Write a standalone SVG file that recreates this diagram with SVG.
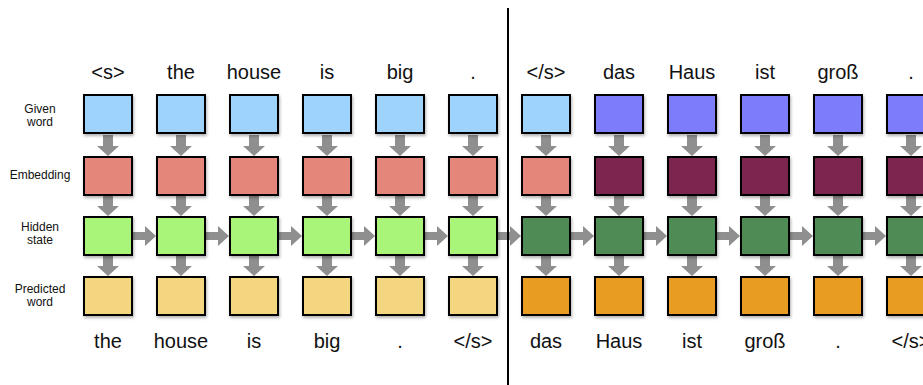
<svg xmlns="http://www.w3.org/2000/svg" xmlns:xlink="http://www.w3.org/1999/xlink" width="923" height="385" viewBox="0 0 923 385">
<style>
.box{stroke:#000;stroke-width:2;filter:url(#sh)}
.g1{fill:#9dd3fc}.g2{fill:#7d7dfc}
.e1{fill:#e4867a}.e2{fill:#7b2650}
.h1{fill:#a8f57a}.h2{fill:#508b55}
.p1{fill:#f4d580}.p2{fill:#e89c20}
.w{font-family:"Liberation Sans",Arial,Helvetica,sans-serif;font-size:20px;fill:#111;text-anchor:middle}
.lab{font-family:"Liberation Sans",Arial,Helvetica,sans-serif;font-size:12px;fill:#111;text-anchor:middle}
.arr{fill:#8f8f8f}
</style>
<defs>
<filter id="sh" x="-20%" y="-20%" width="150%" height="150%"><feDropShadow dx="1" dy="2" stdDeviation="1.5" flood-color="#000" flood-opacity="0.3"/></filter>
<path id="va" d="M-5,0 H5 V11 H11 L0,21 L-11,11 H-5 Z"/>
<path id="ha" d="M0,-4 H12 V-10 L23,0 L12,10 V4 H0 Z"/>
</defs>
<rect width="923" height="385" fill="#fff"/>
<g id="labels">
<text class="lab" x="40" y="113">Given</text><text class="lab" x="40" y="126">word</text>
<text class="lab" x="40" y="179">Embedding</text>
<text class="lab" x="40" y="231">Hidden</text><text class="lab" x="40" y="244">state</text>
<text class="lab" x="40" y="293">Predicted</text><text class="lab" x="40" y="306">word</text>
</g>
<g id="connectors" class="arr">
<use href="#va" x="108" y="135"/><use href="#va" x="108" y="195"/><use href="#va" x="108" y="255"/>
<use href="#va" x="181" y="135"/><use href="#va" x="181" y="195"/><use href="#va" x="181" y="255"/>
<use href="#va" x="254" y="135"/><use href="#va" x="254" y="195"/><use href="#va" x="254" y="255"/>
<use href="#va" x="327" y="135"/><use href="#va" x="327" y="195"/><use href="#va" x="327" y="255"/>
<use href="#va" x="400" y="135"/><use href="#va" x="400" y="195"/><use href="#va" x="400" y="255"/>
<use href="#va" x="473" y="135"/><use href="#va" x="473" y="195"/><use href="#va" x="473" y="255"/>
<use href="#va" x="546" y="135"/><use href="#va" x="546" y="195"/><use href="#va" x="546" y="255"/>
<use href="#va" x="619" y="135"/><use href="#va" x="619" y="195"/><use href="#va" x="619" y="255"/>
<use href="#va" x="692" y="135"/><use href="#va" x="692" y="195"/><use href="#va" x="692" y="255"/>
<use href="#va" x="765" y="135"/><use href="#va" x="765" y="195"/><use href="#va" x="765" y="255"/>
<use href="#va" x="838" y="135"/><use href="#va" x="838" y="195"/><use href="#va" x="838" y="255"/>
<use href="#va" x="911" y="135"/><use href="#va" x="911" y="195"/><use href="#va" x="911" y="255"/>
<use href="#ha" x="133" y="236"/><use href="#ha" x="206" y="236"/><use href="#ha" x="279" y="236"/>
<use href="#ha" x="352" y="236"/><use href="#ha" x="425" y="236"/><use href="#ha" x="498" y="236"/>
<use href="#ha" x="571" y="236"/><use href="#ha" x="644" y="236"/><use href="#ha" x="717" y="236"/>
<use href="#ha" x="790" y="236"/><use href="#ha" x="863" y="236"/>
</g>
<g id="col0"><rect class="box g1" x="84" y="95" width="48" height="38"/><rect class="box e1" x="84" y="157" width="48" height="38"/><rect class="box h1" x="84" y="217" width="48" height="38"/><rect class="box p1" x="84" y="277" width="48" height="38"/><text class="w" x="108" y="79">&lt;s&gt;</text><text class="w" x="108" y="348">the</text></g>
<g id="col1"><rect class="box g1" x="157" y="95" width="48" height="38"/><rect class="box e1" x="157" y="157" width="48" height="38"/><rect class="box h1" x="157" y="217" width="48" height="38"/><rect class="box p1" x="157" y="277" width="48" height="38"/><text class="w" x="181" y="79">the</text><text class="w" x="181" y="348">house</text></g>
<g id="col2"><rect class="box g1" x="230" y="95" width="48" height="38"/><rect class="box e1" x="230" y="157" width="48" height="38"/><rect class="box h1" x="230" y="217" width="48" height="38"/><rect class="box p1" x="230" y="277" width="48" height="38"/><text class="w" x="254" y="79">house</text><text class="w" x="254" y="348">is</text></g>
<g id="col3"><rect class="box g1" x="303" y="95" width="48" height="38"/><rect class="box e1" x="303" y="157" width="48" height="38"/><rect class="box h1" x="303" y="217" width="48" height="38"/><rect class="box p1" x="303" y="277" width="48" height="38"/><text class="w" x="327" y="79">is</text><text class="w" x="327" y="348">big</text></g>
<g id="col4"><rect class="box g1" x="376" y="95" width="48" height="38"/><rect class="box e1" x="376" y="157" width="48" height="38"/><rect class="box h1" x="376" y="217" width="48" height="38"/><rect class="box p1" x="376" y="277" width="48" height="38"/><text class="w" x="400" y="79">big</text><text class="w" x="400" y="348">.</text></g>
<g id="col5"><rect class="box g1" x="449" y="95" width="48" height="38"/><rect class="box e1" x="449" y="157" width="48" height="38"/><rect class="box h1" x="449" y="217" width="48" height="38"/><rect class="box p1" x="449" y="277" width="48" height="38"/><text class="w" x="473" y="79">.</text><text class="w" x="473" y="348">&lt;/s&gt;</text></g>
<g id="col6"><rect class="box g1" x="522" y="95" width="48" height="38"/><rect class="box e1" x="522" y="157" width="48" height="38"/><rect class="box h2" x="522" y="217" width="48" height="38"/><rect class="box p2" x="522" y="277" width="48" height="38"/><text class="w" x="546" y="79">&lt;/s&gt;</text><text class="w" x="546" y="348">das</text></g>
<g id="col7"><rect class="box g2" x="595" y="95" width="48" height="38"/><rect class="box e2" x="595" y="157" width="48" height="38"/><rect class="box h2" x="595" y="217" width="48" height="38"/><rect class="box p2" x="595" y="277" width="48" height="38"/><text class="w" x="619" y="79">das</text><text class="w" x="619" y="348">Haus</text></g>
<g id="col8"><rect class="box g2" x="668" y="95" width="48" height="38"/><rect class="box e2" x="668" y="157" width="48" height="38"/><rect class="box h2" x="668" y="217" width="48" height="38"/><rect class="box p2" x="668" y="277" width="48" height="38"/><text class="w" x="692" y="79">Haus</text><text class="w" x="692" y="348">ist</text></g>
<g id="col9"><rect class="box g2" x="741" y="95" width="48" height="38"/><rect class="box e2" x="741" y="157" width="48" height="38"/><rect class="box h2" x="741" y="217" width="48" height="38"/><rect class="box p2" x="741" y="277" width="48" height="38"/><text class="w" x="765" y="79">ist</text><text class="w" x="765" y="348">groß</text></g>
<g id="col10"><rect class="box g2" x="814" y="95" width="48" height="38"/><rect class="box e2" x="814" y="157" width="48" height="38"/><rect class="box h2" x="814" y="217" width="48" height="38"/><rect class="box p2" x="814" y="277" width="48" height="38"/><text class="w" x="838" y="79">groß</text><text class="w" x="838" y="348">.</text></g>
<g id="col11"><rect class="box g2" x="887" y="95" width="48" height="38"/><rect class="box e2" x="887" y="157" width="48" height="38"/><rect class="box h2" x="887" y="217" width="48" height="38"/><rect class="box p2" x="887" y="277" width="48" height="38"/><text class="w" x="911" y="79">.</text><text class="w" x="911" y="348">&lt;/s&gt;</text></g>
<line id="divider" x1="508" y1="8" x2="508" y2="385" stroke="#000" stroke-width="2"/>
</svg>
